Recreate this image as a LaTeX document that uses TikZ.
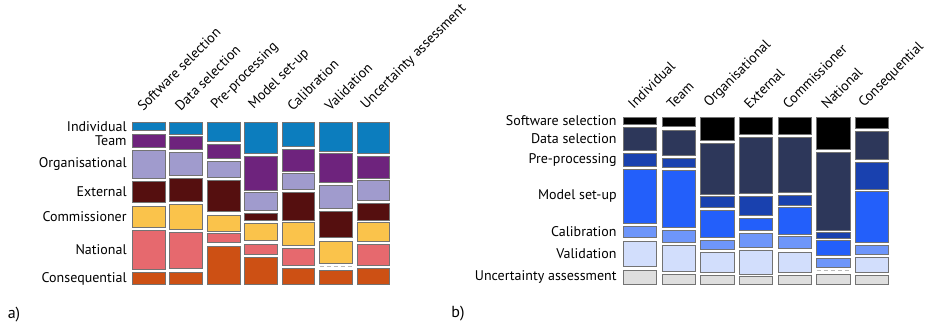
\documentclass[tikz,border=0pt]{standalone}
\usepackage{fontspec}
\setmainfont{PT Sans}
\usetikzlibrary{positioning}

% levels (panel a)
\definecolor{lvl1}{RGB}{12,125,190}
\definecolor{lvl2}{RGB}{110,35,125}
\definecolor{lvl3}{RGB}{160,155,205}
\definecolor{lvl4}{RGB}{85,15,15}
\definecolor{lvl5}{RGB}{250,195,75}
\definecolor{lvl6}{RGB}{230,105,110}
\definecolor{lvl7}{RGB}{205,80,20}
% stages (panel b)
\definecolor{stg1}{RGB}{0,0,0}
\definecolor{stg2}{RGB}{45,55,90}
\definecolor{stg3}{RGB}{25,65,175}
\definecolor{stg4}{RGB}{35,95,250}
\definecolor{stg5}{RGB}{110,150,250}
\definecolor{stg6}{RGB}{210,222,252}
\definecolor{stg7}{RGB}{222,222,222}
\definecolor{edge}{RGB}{115,115,115}

\tikzset{
  tile/.style={draw=edge, line width=0.7pt, anchor=north west, inner sep=0pt, outer sep=0pt},
  gap/.style={draw=edge!50, line width=0.8pt, dash pattern=on 4pt off 3pt},
  rowlabel/.style={font=\fontsize{14}{16}\selectfont, anchor=east, inner sep=0pt},
  collabel/.style={font=\fontsize{14}{16}\selectfont, rotate=45, anchor=south west, inner sep=0pt},
  panellabel/.style={font=\fontsize{16}{18}\selectfont, inner sep=0pt}
}

\begin{document}
\begin{tikzpicture}[x=1pt, y=-1pt]
  \useasboundingbox (0,0) rectangle (936,326);

  % a) stages by level
  \foreach \tiles [count=\c] in {%
    {122.3/130.7, 134.3/147.3, 150/178.3, 181.3/202.7, 206/227.3, 230.7/269.3, 272.7/284.3},%
    {122.3/134, 136.7/149.3, 152.7/175.7, 178.7/201, 204.3/229.3, 232.7/268.7, 272/284.3},%
    {122.3/141, 144/158.7, 161/177.7, 180.7/211.7, 215.3/231, 233.7/242.7, 246/284.3},%
    {122.3/153.7, 156.7/190, 192.7/210, 213.3/220.7, 223.3/240.7, 244/254.3, 257/284.3},%
    {122.3/146.7, 149.7/171, 173.7/189.7, 192.7/220, 222.7/245.7, 248.7/265.7, 268.7/284.3},%
    {122.3/151, 153.7/182, 185.3/208.3, 211/237.7, 241/263.7, 266.7/266.7, 270/284.3},%
    {122.3/153.7, 156.7/178, 180.7/200.7, 203.7/220, 222.7/241, 244/265.7, 268.7/284.3}%
  }{
    \pgfmathsetmacro{\xl}{132.3+37.45*(\c-1)}
    \foreach \yt/\yb [count=\k] in \tiles {
      \pgfmathsetmacro{\hh}{\yb-\yt}
      \ifdim \hh pt<0.5pt
        \draw[gap] (\xl,\yt) -- ++(32.7,0);
      \else
        \node[tile, fill=lvl\k, minimum width=32.7pt, minimum height=\hh pt] (a\c-\k) at (\xl,\yt) {};
      \fi
    }
  }
  \foreach \lab [count=\k] in {Individual, Team, Organisational, External, Commissioner, National, Consequential}
    \node[rowlabel, left=5.5pt of a1-\k] (rowa-\k) {\lab};
  \foreach \lab [count=\c] in {Software selection, Data selection, Pre-processing, Model set-up, Calibration, Validation, Uncertainty assessment}
    \node[collabel] (cola-\c) at ({143.5+37.45*(\c-1)},112) {\lab};

  % b) levels by stage
  \foreach \tiles [count=\c] in {%
    {117.3/124, 127.3/150.7, 153.7/166, 169.3/223.3, 226/237.7, 241/266, 270/284.3},%
    {117.3/126.7, 130/155, 158.3/167.3, 170.3/227.7, 230.7/242.7, 245.7/271, 274/284.3},%
    {117.3/140, 143.3/194, 196.7/207.3, 210.7/237.7, 240.7/249.7, 252.7/272.3, 275.3/284.3},%
    {117.3/134.3, 137.3/193.3, 196.7/215.7, 218.3/230.7, 233.7/247.3, 250/274, 276.7/284.3},%
    {117.3/134.3, 137.3/192.3, 195.3/205, 207.3/234, 236.7/248.7, 252/272.3, 275.3/284.3},%
    {117.3/149.3, 152/230, 232.7/238, 240.7/255.7, 258.3/267.7, 270.7/270.7, 274/284.3},%
    {117.3/128.3, 131/159.7, 162.3/189.3, 191.7/242.7, 245.7/254.3, 257.3/272.7, 275.3/284.3}%
  }{
    \pgfmathsetmacro{\xl}{623.3+38.67*(\c-1)}
    \foreach \yt/\yb [count=\k] in \tiles {
      \pgfmathsetmacro{\hh}{\yb-\yt}
      \ifdim \hh pt<0.5pt
        \draw[gap] (\xl,\yt) -- ++(33.5,0);
      \else
        \node[tile, fill=stg\k, minimum width=33.5pt, minimum height=\hh pt] (b\c-\k) at (\xl,\yt) {};
      \fi
    }
  }
  \foreach \lab [count=\k] in {Software selection, Data selection, Pre-processing, Model set-up, Calibration, Validation, Uncertainty assessment}
    \node[rowlabel, left=6.5pt of b1-\k] (rowb-\k) {\lab};
  \foreach \lab [count=\c] in {Individual, Team, Organisational, External, Commissioner, National, Consequential}
    \node[collabel] (colb-\c) at ({634+38.67*(\c-1)},110) {\lab};

  \node[panellabel] (pa) at (14,315) {a)};
  \node[panellabel] (pb) at (458,314) {b)};
\end{tikzpicture}
\end{document}
